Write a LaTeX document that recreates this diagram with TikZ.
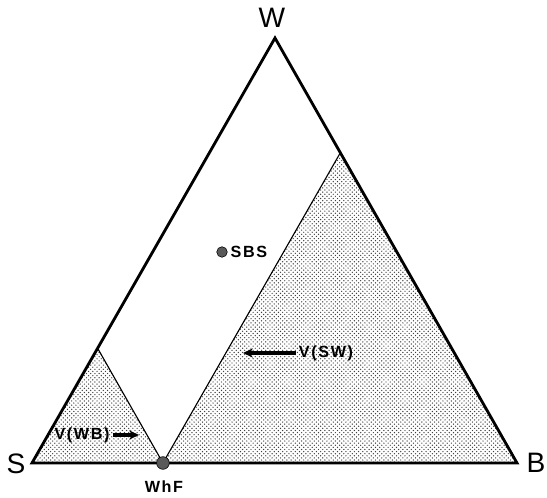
\documentclass[tikz,border=0pt]{standalone}
\usepackage{fontspec}
\setmainfont{Liberation Sans}
\newfontfamily\tagfont[LetterSpace=10]{Liberation Sans}
\usetikzlibrary{calc,patterns,arrows.meta,positioning}

\begin{document}
\begin{tikzpicture}[x=0.025cm, y=-0.025cm,
		corner/.style={font=\fontsize{20}{20}\selectfont, inner sep=0pt},
		tag/.style={font=\tagfont\bfseries\fontsize{11.5}{12}\selectfont, inner sep=2pt},
		spot/.style={circle, draw=black, fill=black!65, inner sep=0pt, minimum size=7.5pt},
		region/.style={pattern=crosshatch dots, pattern color=black!75},
		vec/.style={-{Stealth[length=7pt,width=6.5pt]}, line width=2.2pt}]
		\useasboundingbox (0,0) rectangle (547,498);
		
		% corners of the diagram
		\coordinate (S) at (32,463);
		\coordinate (B) at (517,463);
		\coordinate (W) at (275,38);
		\coordinate (WhF) at ($(S)!0.27!(B)$);
		\coordinate (topWB) at ($(S)!0.27!(W)$);
		\coordinate (topSW) at ($(B)!0.73!(W)$);
		
		% shaded regions
		\fill[region] (S) -- (topWB) -- (WhF) -- cycle;
		\fill[region] (WhF) -- (topSW) -- (B) -- cycle;
		\draw[line width=0.8pt] (topWB) -- (WhF) -- (topSW);
		\draw[line width=2pt, line join=miter] (S) -- (W) -- (B) -- cycle;
		
		\node[corner] (labW) at (272,18) {W};
		\node[corner] (labS) at (16,464) {S};
		\node[corner] (labB) at (536,463) {B};
		
		% points
		\node[spot] (sbs) at (222,252) {};
		\node[tag, right=0pt of sbs] (sbslab) {SBS};
		\node[spot, minimum size=9pt] (whf) at (WhF) {};
		\node[tag] (whflab) at (164,487) {WhF};
		
		% vectors
		\node[tag] (vsw) at (326,353) {V(SW)};
		\coordinate (vswtip) at (243,353);
		\draw[vec] (vsw.west) -- (vswtip);
		\node[tag] (vwb) at (82,435) {V(WB)};
		\coordinate (vwbtip) at (139,435);
		\draw[vec] (vwb.east) -- (vwbtip);
	\end{tikzpicture}
\end{document}
